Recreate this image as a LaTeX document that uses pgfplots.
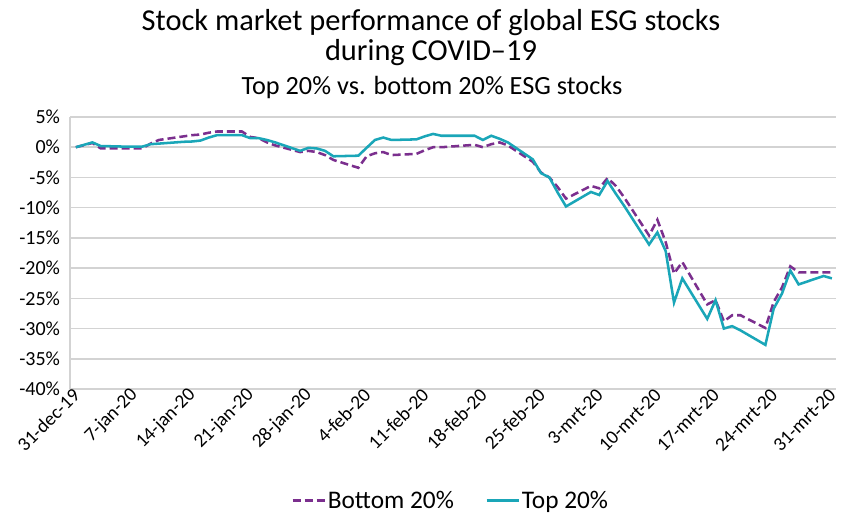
\documentclass[border=0pt]{standalone}
\usepackage{pgfplots}
\pgfplotsset{compat=1.18}
\usepackage{fontspec}
\setmainfont{Carlito}
\definecolor{topc}{HTML}{1AA6B8}
\definecolor{botc}{HTML}{7B2F8E}
\definecolor{gridc}{HTML}{D3D3D3}

\pgfplotstableread{
d v
0 0
2 0.8
3 0.2
6 0.1
7 0.1
8 0.1
9 0.5
10 0.6
13 0.9
14 0.95
15 1.1
16 1.6
17 2.0
20 2.0
21 1.5
22 1.5
23 1.2
24 0.8
27 -0.6
28 -0.1
29 -0.2
30 -0.6
31 -1.5
34 -1.4
35 -0.1
36 1.2
37 1.6
38 1.2
41 1.3
42 1.8
43 2.2
44 1.9
45 1.9
48 1.9
49 1.2
50 1.9
51 1.4
52 0.8
55 -2.0
56 -4.3
57 -5.0
58 -7.5
59 -9.8
62 -7.4
63 -7.9
64 -5.6
65 -7.7
66 -9.7
69 -16.1
70 -14.1
71 -17.2
72 -25.7
73 -21.7
76 -28.4
77 -25.3
78 -30.0
79 -29.6
80 -30.3
83 -32.7
84 -26.7
85 -24.2
86 -20.4
87 -22.7
90 -21.3
91 -21.7
}\toptable

\pgfplotstableread{
d v
0 0
2 0.7
3 -0.2
6 -0.2
7 -0.2
8 -0.2
9 0.6
10 1.2
13 1.8
14 2.0
15 2.1
16 2.4
17 2.6
20 2.6
21 1.7
22 1.5
23 0.8
24 0.3
27 -0.8
28 -0.6
29 -0.8
30 -1.3
31 -2.1
34 -3.4
35 -1.5
36 -1.0
37 -0.8
38 -1.3
41 -1.1
42 -0.5
43 0.0
44 0.0
45 0.1
48 0.4
49 0.0
50 0.5
51 0.8
52 0.3
55 -2.4
56 -4.2
57 -5.0
58 -6.6
59 -8.5
62 -6.4
63 -6.8
64 -5.1
65 -6.4
66 -8.3
69 -14.6
70 -12.0
71 -15.7
72 -20.9
73 -19.0
76 -26.0
77 -25.3
78 -28.8
79 -27.8
80 -27.8
83 -29.9
84 -25.6
85 -23.2
86 -19.7
87 -20.7
90 -20.7
91 -20.7
}\bottable

\begin{document}
\begin{tikzpicture}[x=0.75pt,y=0.75pt]
\useasboundingbox (0,0) rectangle (845,515);
\node[font=\fontsize{22.8}{24}\selectfont] at (431,492) {Stock market performance of global ESG stocks};
\node[font=\fontsize{22.8}{24}\selectfont] at (431,462) {during COVID--19};
\node[font=\fontsize{19.7}{22}\selectfont] at (432,428) {Top 20\% vs. bottom 20\% ESG stocks};
\begin{axis}[
  at={(52.5pt,94.5pt)}, anchor=south west,
  scale only axis, width=574.5pt, height=204pt,
  xmin=-0.7, xmax=91.5, ymin=-40, ymax=5,
  ytick={-40,-35,-30,-25,-20,-15,-10,-5,0,5},
  yticklabels={-40\%,-35\%,-30\%,-25\%,-20\%,-15\%,-10\%,-5\%,0\%,5\%},
  xtick={0,7,14,21,28,35,42,49,56,63,70,77,84,91},
  xticklabels={31-dec-19,7-jan-20,14-jan-20,21-jan-20,28-jan-20,4-feb-20,11-feb-20,18-feb-20,25-feb-20,3-mrt-20,10-mrt-20,17-mrt-20,24-mrt-20,31-mrt-20},
  ymajorgrids, grid style={gridc, line width=1.1pt},
  major tick length=0pt,
  axis lines*=left,
  x axis line style={draw=none},
  y axis line style={-, draw=gridc, line width=1.1pt},
  yticklabel style={font=\fontsize{15}{16}\selectfont, anchor=east, xshift=-4pt},
  xticklabel style={font=\fontsize{14.5}{16}\selectfont, rotate=45, anchor=east, xshift=2pt, yshift=-2pt},
  legend style={at={(0.497,-0.41)}, anchor=center, draw=none, fill=none,
    legend columns=2, font=\fontsize{19}{21}\selectfont,
    /tikz/every odd column/.append style={column sep=0pt},
    /tikz/every even column/.append style={column sep=22pt},
    /tikz/every node/.append style={inner xsep=1.5pt}},
  legend image code/.code={\draw[#1] (0pt,0pt) -- (24pt,0pt);},
  clip=false,
]
\addplot[botc, line width=1.9pt, dash pattern=on 6pt off 3pt] table[x=d,y=v] {\bottable};
\addlegendentry{Bottom 20\%}
\addplot[topc, line width=1.9pt] table[x=d,y=v] {\toptable};
\addlegendentry{Top 20\%}
\end{axis}
\end{tikzpicture}
\end{document}
